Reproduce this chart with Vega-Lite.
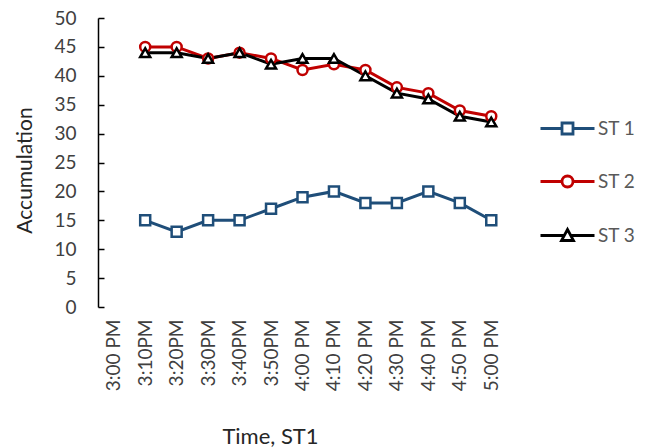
{
  "$schema": "https://vega.github.io/schema/vega-lite/v6.json",
  "width": 409,
  "height": 289,
  "autosize": {"type": "none"},
  "padding": {"left": 98, "top": 18, "right": 147, "bottom": 141},
  "config": {
    "view": {"stroke": null},
    "font": "Lato",
    "axis": {"grid": false, "labelFont": "Lato", "titleFont": "Lato", "labelFontSize": 19, "titleFontSize": 21, "labelColor": "#404040", "titleColor": "#262626", "titleFontWeight": "normal"},
    "legend": {"labelFont": "Lato", "labelFontSize": 19, "labelColor": "#595959"}
  },
  "data": {
    "values": [
      {"time": "3:10PM", "series": "ST 1", "value": 15},
      {"time": "3:20PM", "series": "ST 1", "value": 13},
      {"time": "3:30PM", "series": "ST 1", "value": 15},
      {"time": "3:40PM", "series": "ST 1", "value": 15},
      {"time": "3:50PM", "series": "ST 1", "value": 17},
      {"time": "4:00 PM", "series": "ST 1", "value": 19},
      {"time": "4:10 PM", "series": "ST 1", "value": 20},
      {"time": "4:20 PM", "series": "ST 1", "value": 18},
      {"time": "4:30 PM", "series": "ST 1", "value": 18},
      {"time": "4:40 PM", "series": "ST 1", "value": 20},
      {"time": "4:50 PM", "series": "ST 1", "value": 18},
      {"time": "5:00 PM", "series": "ST 1", "value": 15},
      {"time": "3:10PM", "series": "ST 2", "value": 45},
      {"time": "3:20PM", "series": "ST 2", "value": 45},
      {"time": "3:30PM", "series": "ST 2", "value": 43},
      {"time": "3:40PM", "series": "ST 2", "value": 44},
      {"time": "3:50PM", "series": "ST 2", "value": 43},
      {"time": "4:00 PM", "series": "ST 2", "value": 41},
      {"time": "4:10 PM", "series": "ST 2", "value": 42},
      {"time": "4:20 PM", "series": "ST 2", "value": 41},
      {"time": "4:30 PM", "series": "ST 2", "value": 38},
      {"time": "4:40 PM", "series": "ST 2", "value": 37},
      {"time": "4:50 PM", "series": "ST 2", "value": 34},
      {"time": "5:00 PM", "series": "ST 2", "value": 33},
      {"time": "3:10PM", "series": "ST 3", "value": 44},
      {"time": "3:20PM", "series": "ST 3", "value": 44},
      {"time": "3:30PM", "series": "ST 3", "value": 43},
      {"time": "3:40PM", "series": "ST 3", "value": 44},
      {"time": "3:50PM", "series": "ST 3", "value": 42},
      {"time": "4:00 PM", "series": "ST 3", "value": 43},
      {"time": "4:10 PM", "series": "ST 3", "value": 43},
      {"time": "4:20 PM", "series": "ST 3", "value": 40},
      {"time": "4:30 PM", "series": "ST 3", "value": 37},
      {"time": "4:40 PM", "series": "ST 3", "value": 36},
      {"time": "4:50 PM", "series": "ST 3", "value": 33},
      {"time": "5:00 PM", "series": "ST 3", "value": 32}
    ]
  },
  "encoding": {
    "x": {
      "field": "time", "type": "ordinal",
      "scale": {"type": "point", "padding": 0.5, "domain": ["3:00 PM", "3:10PM", "3:20PM", "3:30PM", "3:40PM", "3:50PM", "4:00 PM", "4:10 PM", "4:20 PM", "4:30 PM", "4:40 PM", "4:50 PM", "5:00 PM"]},
      "axis": {"title": "Time, ST1", "titleFontSize": 22, "labelAngle": -90, "domain": false, "ticks": false, "labelPadding": 12, "titleX": 172, "titleY": 129, "titleBaseline": "middle", "titleAlign": "center"}
    },
    "y": {
      "field": "value", "type": "quantitative",
      "scale": {"domain": [0, 50], "nice": false},
      "axis": {"title": "Accumulation", "values": [0, 5, 10, 15, 20, 25, 30, 35, 40, 45, 50], "domainColor": "black", "domainWidth": 1.5, "tickColor": "black", "tickWidth": 1.5, "tickSize": -6, "labelPadding": 28, "titleX": -73, "titleY": 152, "titleAngle": -90, "titleBaseline": "middle", "titleAlign": "center"}
    }
  },
  "layer": [
    {
      "mark": {"type": "line", "strokeWidth": 3},
      "encoding": {
        "color": {"field": "series", "type": "nominal", "scale": {"domain": ["ST 1", "ST 2", "ST 3"], "range": ["#1f4e79", "#c00000", "#000000"]}, "legend": null}
      }
    },
    {
      "mark": {"type": "point", "filled": true, "fill": "white", "size": 100, "strokeWidth": 2.5, "opacity": 1},
      "encoding": {
        "stroke": {"field": "series", "type": "nominal", "scale": {"domain": ["ST 1", "ST 2", "ST 3"], "range": ["#1f4e79", "#c00000", "#000000"]}, "legend": null},
        "shape": {"field": "series", "type": "nominal", "scale": {"domain": ["ST 1", "ST 2", "ST 3"], "range": ["square", "circle", "triangle-up"]}, "legend": null}
      }
    },
    {
      "mark": {"type": "point", "filled": false, "size": 100, "strokeWidth": 2.5, "opacity": 0},
      "encoding": {
        "color": {"field": "series", "type": "nominal", "scale": {"domain": ["ST 1", "ST 2", "ST 3"], "range": ["#1f4e79", "#c00000", "#000000"]},
          "legend": {"title": null, "orient": "none", "legendX": 460, "legendY": 101, "symbolOpacity": 1, "symbolStrokeWidth": 2.8, "symbolSize": 100, "labelOffset": 21, "rowPadding": 30, "padding": 0}},
        "shape": {"field": "series", "type": "nominal", "scale": {"domain": ["ST 1", "ST 2", "ST 3"], "range": ["M-5.4,0H-1.1M1.1,0H5.4M-1.1,-1.1H1.1V1.1H-1.1Z", "M-5.4,0H-1.1M1.1,0H5.4M1.1,0A1.1,1.1,0,1,1,-1.1,0A1.1,1.1,0,1,1,1.1,0Z", "M-5.4,0H-0.65M0.65,0H5.4M0,-1.2L1.2,1L-1.2,1Z"]},
          "legend": {"title": null, "orient": "none", "legendX": 460, "legendY": 101, "symbolOpacity": 1, "symbolStrokeWidth": 2.8, "symbolSize": 100, "labelOffset": 21, "rowPadding": 30, "padding": 0}}
      }
    }
  ],
  "resolve": {"scale": {"color": "independent", "shape": "independent", "stroke": "independent"}}
}
